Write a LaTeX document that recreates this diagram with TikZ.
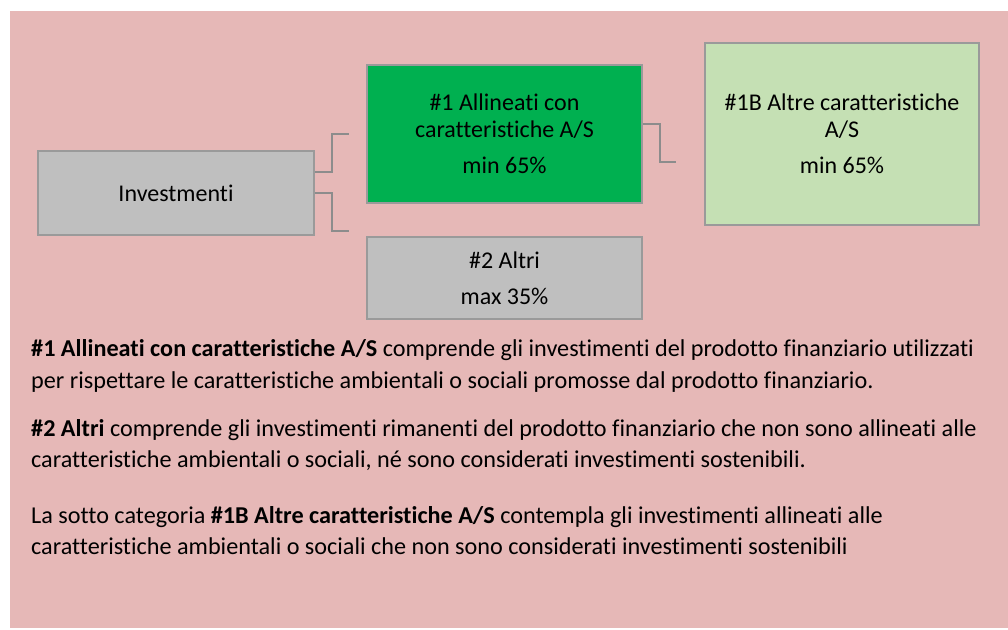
\documentclass[tikz,border=0pt]{standalone}
\usepackage{fontspec}
\setmainfont{Carlito}[Ligatures=NoCommon]
\definecolor{bgpink}{HTML}{E6B8B7}
\definecolor{boxgray}{HTML}{BFBFBF}
\definecolor{bordergray}{HTML}{9A9A9A}
\definecolor{conngray}{HTML}{8C8C8C}
\definecolor{dkgreen}{HTML}{00B050}
\definecolor{ltgreen}{HTML}{C5E0B4}
\tikzset{
  box/.style={draw=bordergray, line width=2pt, inner sep=0pt, align=center,
    font=\fontsize{24}{27}\selectfont, text=black},
  conn/.style={draw=conngray, line width=2pt},
  body/.style={anchor=base west, inner sep=0pt, font=\fontsize{24.2}{32}\selectfont, text=black}
}
\begin{document}
\begin{tikzpicture}[x=1pt,y=-1pt]
\useasboundingbox (0,0) rectangle (1008,629);
\fill[white] (0,0) rectangle (1008,629);
\fill[bgpink] (10,11) rectangle (1008,628);

\node[box, fill=boxgray, minimum width=276pt, minimum height=84pt] (inv) at (176,193) {Investmenti};
\node[box, fill=dkgreen, minimum width=275pt, minimum height=138pt] (a1) at (504.5,134)
  {\#1 Allineati con\\caratteristiche A/S\\[9pt]min 65\%};
\node[box, fill=boxgray, minimum width=275pt, minimum height=82pt] (a2) at (504.5,278)
  {\#2 Altri\\[9pt]max 35\%};
\node[box, fill=ltgreen, minimum width=274pt, minimum height=182pt] (b1) at (842,134)
  {\#1B Altre caratteristiche\\A/S\\[9pt]min 65\%};

\coordinate (e1) at (349,134);
\coordinate (e2) at (349,231);
\coordinate (e3) at (676,162);
\draw[conn] ([yshift=21pt]inv.east) -- ++(17,0) |- (e1);
\draw[conn] (inv.east) -- ++(17,0) |- (e2);
\draw[conn] ([yshift=10pt]a1.east) -- ++(17,0) |- (e3);

\node[body] (t1) at (31,356) {\textbf{\#1 Allineati con caratteristiche A/S} comprende gli investimenti del prodotto finanziario utilizzati};
\node[body] (t2) at (31,388) {per rispettare le caratteristiche ambientali o sociali promosse dal prodotto finanziario.};
\node[body] (t3) at (31,436) {\textbf{\#2 Altri} comprende gli investimenti rimanenti del prodotto finanziario che non sono allineati alle};
\node[body] (t4) at (31,467) {caratteristiche ambientali o sociali, né sono considerati investimenti sostenibili.};
\node[body] (t5) at (31,523) {La sotto categoria \textbf{\#1B Altre caratteristiche A/S} contempla gli investimenti allineati alle};
\node[body] (t6) at (31,554) {caratteristiche ambientali o sociali che non sono considerati investimenti sostenibili};
\end{tikzpicture}
\end{document}
